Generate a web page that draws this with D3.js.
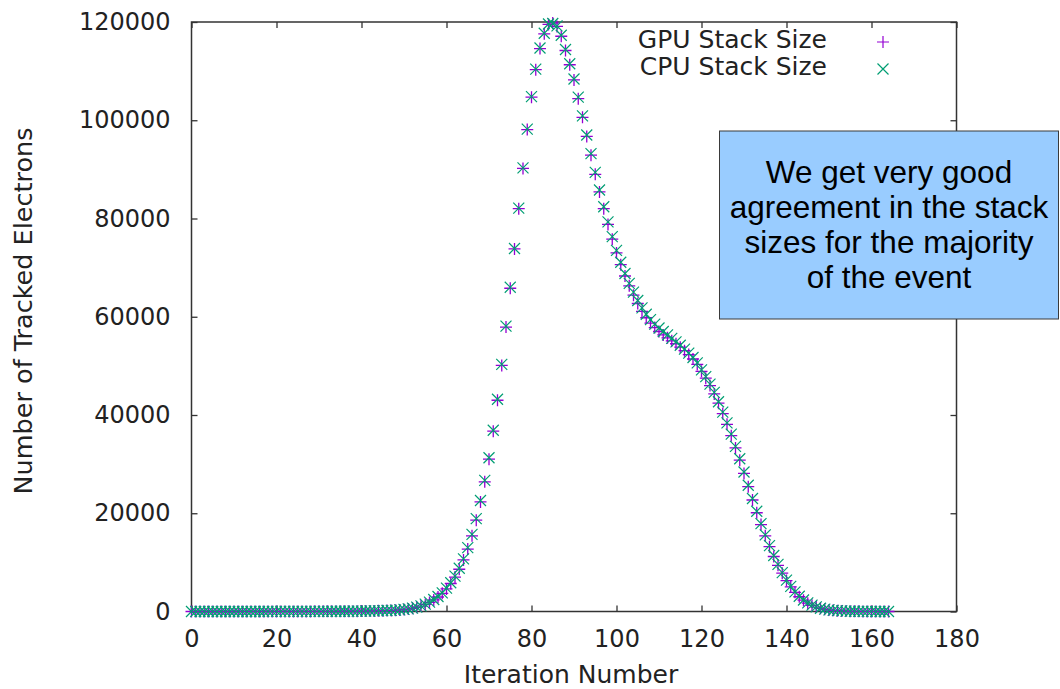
<!DOCTYPE html>
<html>
<head>
<meta charset="utf-8">
<script src="https://cdn.jsdelivr.net/npm/d3@7"></script>
<style>
  body { margin: 0; background: #fff; }
  svg { display: block; }
</style>
</head>
<body>
<div id="chart"></div>
<script>
// Stack sizes per iteration (iterations 0..164)
const iterations = d3.range(0, 165);

const gpuStack = [
    0, 1, 1, 2, 2, 3, 3, 4, 4, 5,
    5, 6, 6, 7, 8, 8, 9, 10, 11, 12,
    13, 14, 15, 16, 18, 19, 21, 23, 25, 27,
    30, 33, 36, 40, 44, 48, 53, 59, 65, 72,
    80, 90, 100, 115, 135, 160, 190, 225, 270, 330,
    400, 500, 650, 850, 1100, 1450, 1850, 2350, 2950, 3700,
    4600, 5700, 7000, 8600, 10500, 12700, 15400, 18600, 22300, 26400,
    31000, 36700, 43000, 50100, 57900, 65800, 73800, 82000, 90200, 98100,
    104700, 110300, 114600, 117600, 119500, 119800, 119100, 117100, 114200, 111300,
    108200, 104400, 100600, 96700, 92900, 89000, 85400, 82000, 78800, 75800,
    73000, 70600, 68300, 66300, 64400, 62700, 61100, 59800, 58700, 57800,
    57000, 56300, 55700, 55100, 54500, 53800, 53100, 52300, 51400, 50300,
    48900, 47500, 46000, 44300, 42400, 40300, 38100, 35800, 33300, 30800,
    28100, 25400, 22700, 20100, 17700, 15400, 13200, 11200, 9400, 7800,
    6300, 5000, 3900, 3000, 2300, 1700, 1250, 900, 650, 450,
    320, 230, 160, 110, 80, 55, 40, 28, 20, 14,
    10, 7, 5, 3, 2
];

const cpuStack = [
    0, 1, 1, 1, 2, 3, 3, 4, 5, 5,
    6, 6, 7, 7, 8, 9, 9, 10, 11, 12,
    13, 14, 16, 17, 18, 20, 22, 23, 26, 28,
    31, 34, 37, 41, 45, 50, 55, 60, 67, 74,
    82, 92, 105, 120, 140, 165, 195, 235, 280, 345,
    420, 520, 680, 880, 1150, 1500, 1900, 2450, 3050, 3800,
    4750, 5850, 7200, 8800, 10700, 13000, 15700, 18900, 22600, 26700,
    31300, 36900, 43200, 50300, 58100, 66000, 73900, 82100, 90300, 98200,
    104800, 110400, 114700, 117700, 119600, 119700, 119200, 117300, 114400, 111500,
    108400, 104700, 100900, 97000, 93200, 89400, 85800, 82400, 79300, 76300,
    73500, 71100, 68800, 66800, 65000, 63300, 61800, 60500, 59400, 58500,
    57700, 57000, 56300, 55600, 54900, 54200, 53400, 52600, 51700, 50600,
    49200, 47800, 46300, 44600, 42700, 40600, 38400, 36100, 33600, 31100,
    28400, 25700, 23000, 20400, 17900, 15600, 13400, 11400, 9600, 7900,
    6400, 5100, 4000, 3100, 2350, 1750, 1300, 930, 670, 470,
    330, 240, 170, 115, 85, 58, 42, 30, 21, 15,
    11, 8, 5, 3, 2
];

const xTicks = [0, 20, 40, 60, 80, 100, 120, 140, 160, 180];
const yTicks = [0, 20000, 40000, 60000, 80000, 100000, 120000];
const seriesNames = ["GPU Stack Size", "CPU Stack Size"];
const noteLines = ["We get very good", "agreement in the stack", "sizes for the majority", "of the event"];

// Layout
const width = 1060;
const height = 689;
const plot = { left: 191.5, right: 956.5, top: 22, bottom: 611.5 };
const frameColor = "#333";
const gpuColor = "#9400d3";
const cpuColor = "#009e73";
const font = "'DejaVu Sans', sans-serif";

const svg = d3.select("#chart")
    .append("svg")
    .attr("width", width)
    .attr("height", height);

const x = d3.scaleLinear().domain([0, 180]).range([plot.left, plot.right]);
const y = d3.scaleLinear().domain([0, 120000]).range([plot.bottom, plot.top]);

// Axes with inward ticks (gnuplot style)
function styleAxis(g) {
    g.select(".domain").remove();
    g.selectAll(".tick line").attr("stroke", frameColor).attr("stroke-width", 1.3);
    g.selectAll(".tick text")
        .attr("fill", "#222")
        .style("font-family", font)
        .style("font-size", "24px");
}

svg.append("g")
    .attr("transform", `translate(0,${plot.bottom})`)
    .call(d3.axisBottom(x).tickValues(xTicks).tickSize(-6).tickPadding(18))
    .call(styleAxis);

svg.append("g")
    .attr("transform", `translate(${plot.left},0)`)
    .call(d3.axisLeft(y).tickValues(yTicks).tickSize(-6).tickPadding(21).tickFormat(d3.format("d")))
    .call(styleAxis);

svg.append("g")
    .attr("transform", `translate(0,${plot.top})`)
    .call(d3.axisTop(x).tickValues(xTicks).tickSize(-6).tickFormat(""))
    .call(styleAxis);

svg.append("g")
    .attr("transform", `translate(${plot.right},0)`)
    .call(d3.axisRight(y).tickValues(yTicks).tickSize(-6).tickFormat(""))
    .call(styleAxis);

// Plot frame
svg.append("rect")
    .attr("x", plot.left)
    .attr("y", plot.top)
    .attr("width", plot.right - plot.left)
    .attr("height", plot.bottom - plot.top)
    .attr("fill", "none")
    .attr("stroke", frameColor)
    .attr("stroke-width", 1.5);

// Axis titles
svg.append("text")
    .attr("transform", "translate(32,311) rotate(-90)")
    .attr("text-anchor", "middle")
    .style("font-family", font)
    .style("font-size", "25.5px")
    .attr("fill", "#222")
    .text("Number of Tracked Electrons");

svg.append("text")
    .attr("x", 571)
    .attr("y", 683)
    .attr("text-anchor", "middle")
    .style("font-family", font)
    .style("font-size", "25px")
    .attr("fill", "#222")
    .text("Iteration Number");

// Point markers
const plusPath = "M-6,0H6M0,-6V6";
const crossPath = "M-5.5,-5.5L5.5,5.5M-5.5,5.5L5.5,-5.5";

svg.append("g")
    .selectAll("path")
    .data(iterations)
    .enter()
    .append("path")
    .attr("d", plusPath)
    .attr("transform", i => `translate(${x(i)},${y(gpuStack[i])})`)
    .attr("stroke", gpuColor)
    .attr("stroke-width", 1.3)
    .attr("fill", "none");

svg.append("g")
    .selectAll("path")
    .data(iterations)
    .enter()
    .append("path")
    .attr("d", crossPath)
    .attr("transform", i => `translate(${x(i)},${y(cpuStack[i])})`)
    .attr("stroke", cpuColor)
    .attr("stroke-width", 1.2)
    .attr("fill", "none");

// Legend
const legend = svg.append("g");
[[plusPath, gpuColor], [crossPath, cpuColor]].forEach(([shape, color], k) => {
    const base = 48 + k * 27;
    legend.append("text")
        .attr("x", 827)
        .attr("y", base)
        .attr("text-anchor", "end")
        .style("font-family", font)
        .style("font-size", "25px")
        .attr("fill", "#222")
        .text(seriesNames[k]);
    legend.append("path")
        .attr("d", shape)
        .attr("transform", `translate(883,${base - 6})`)
        .attr("stroke", color)
        .attr("stroke-width", 1.2)
        .attr("fill", "none");
});

// Annotation box
svg.append("rect")
    .attr("x", 719.5)
    .attr("y", 131)
    .attr("width", 339)
    .attr("height", 188)
    .attr("fill", "#99ccff")
    .attr("stroke", "#3a3a3a")
    .attr("stroke-width", 1);

svg.append("g")
    .selectAll("text")
    .data(noteLines)
    .enter()
    .append("text")
    .attr("x", 889)
    .attr("y", (d, i) => 183 + i * 35)
    .attr("text-anchor", "middle")
    .style("font-family", "'Liberation Sans', Arial, sans-serif")
    .style("font-size", "31.5px")
    .attr("fill", "#000")
    .text(d => d);
</script>
</body>
</html>
